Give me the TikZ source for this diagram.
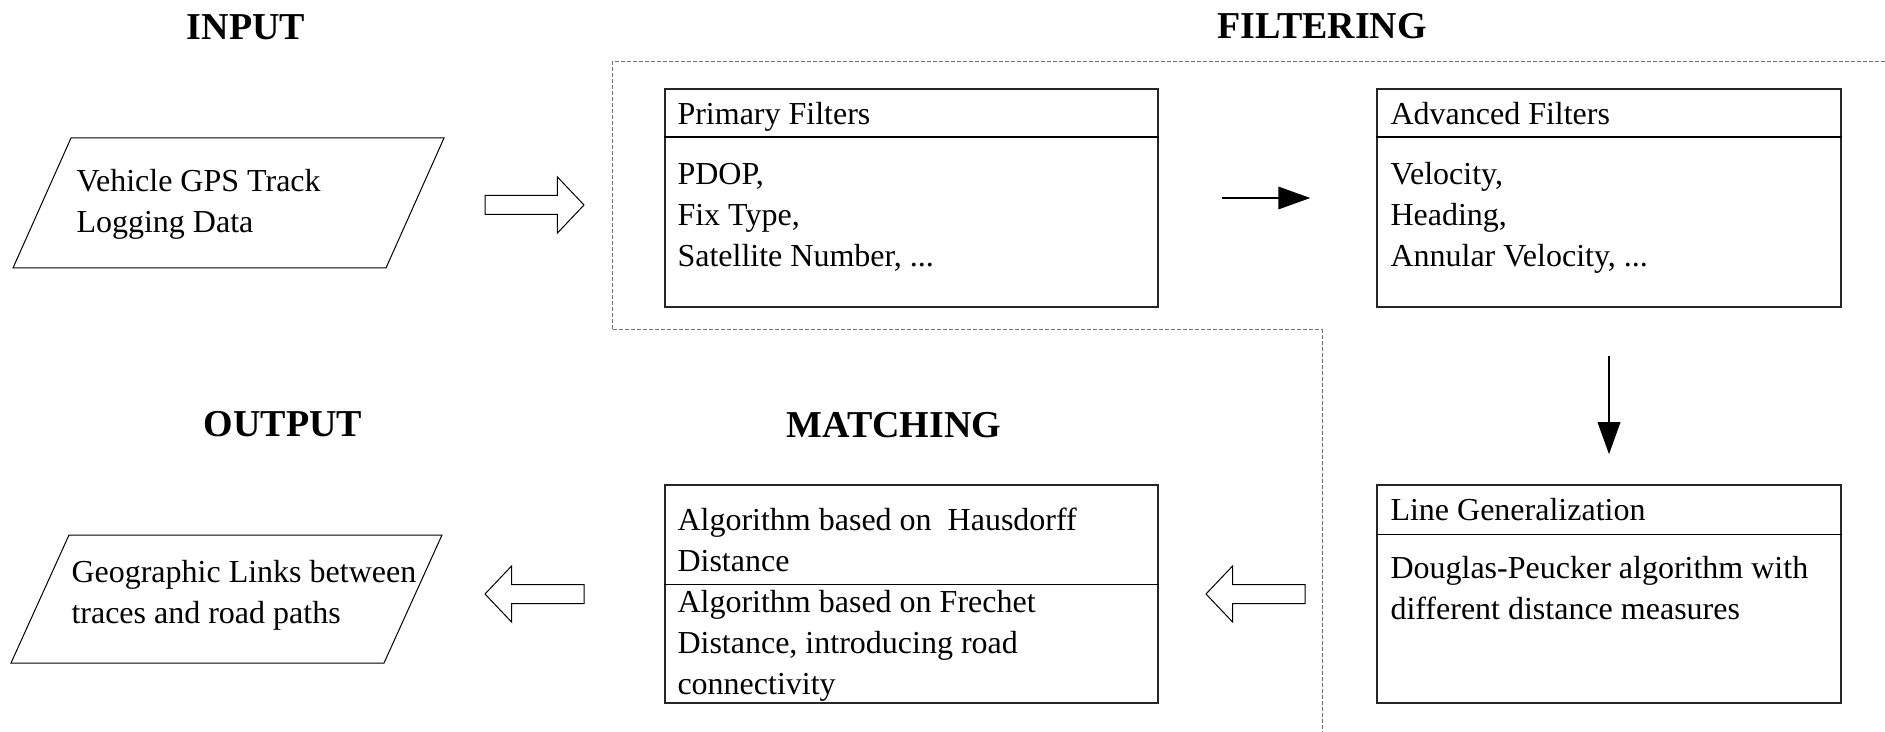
\documentclass[tikz,border=0pt]{standalone}
\usepackage{fontspec}
\setmainfont{Liberation Serif}
\usetikzlibrary{shapes.arrows,arrows.meta}

\tikzset{
  hdr/.style={font=\fontsize{15.2}{18}\selectfont\bfseries, inner sep=0pt},
  txt/.style={font=\fontsize{12.8}{16.4}\selectfont, align=left, anchor=base west, inner sep=0pt},
  box/.style={draw=black!85, line width=0.6pt, minimum width=#1, minimum height=87.2pt, inner sep=0pt},
  iobox/.style={draw, line width=0.4pt},
  hollow/.style={draw, line width=0.4pt, single arrow, single arrow head extend=7.4pt,
    single arrow tip angle=93, inner sep=3.6pt, minimum height=39.6pt},
  flow/.style={line width=0.8pt, -{Triangle[length=12.8pt, width=9pt]}},
}

\begin{document}
\begin{tikzpicture}[x=0.4pt, y=-0.4pt]
       \useasboundingbox (0,0) rectangle (1885,732);

       \node[hdr] (hin) at (246,27) {INPUT};
       \node[hdr] (hfil) at (1322,26) {FILTERING};
       \node[hdr] (hout) at (283,424) {OUTPUT};
       \node[hdr] (hmat) at (894,425) {MATCHING};

       \draw[black!55, line width=0.4pt, dash pattern=on 1.6pt off 0.8pt]
         (1885,62) -- (612,62) -- (612,330) -- (1322,330) -- (1322,732);

       \draw[iobox] (13,268) -- (71,138) -- (444,138) -- (386,268) -- cycle;
       \node[txt] (inp) at (76,233) {Vehicle GPS Track\\Logging Data};

       \node[box=197.2pt] (prim) at (911.5,198) {};
       \draw[line width=0.6pt] ([yshift=-19.6pt]prim.north west) -- ([yshift=-19.6pt]prim.north east);
       \node[txt] (primhd) at (677,125) {Primary Filters};
       \node[txt] (primtxt) at (677,267) {PDOP,\\Fix Type,\\Satellite Number, ...};

       \node[box=185.6pt] (adv) at (1609,198) {};
       \draw[line width=0.6pt] ([yshift=-19.6pt]adv.north west) -- ([yshift=-19.6pt]adv.north east);
       \node[txt] (advhd) at (1390,125) {Advanced Filters};
       \node[txt] (advtxt) at (1390,267) {Velocity,\\Heading,\\Annular Velocity, ...};

       \node[box=185.6pt] (linegen) at (1609,594) {};
       \draw[line width=0.6pt] ([yshift=-20pt]linegen.north west) -- ([yshift=-20pt]linegen.north east);
       \node[txt] (lghd) at (1390,520) {Line Generalization};
       \node[txt] (lgtxt) at (1390,619) {Douglas-Peucker algorithm with\\different distance measures};

       \node[box=197.2pt] (match) at (911.5,594) {};
       \draw[line width=0.6pt] ([yshift=-40pt]match.north west) -- ([yshift=-40pt]match.north east);
       \node[txt] (mhaus) at (677,571) {Algorithm based on\ \ Hausdorff\\Distance};
       \node[txt] (mfre) at (677,694) {Algorithm based on Frechet\\Distance, introducing road\\connectivity};

       \draw[iobox] (11,663) -- (69,535) -- (442,535) -- (384,663) -- cycle;
       \node[txt] (out) at (71,623) {Geographic Links between\\traces and road paths};

       \node[hollow] (a1) at (530,205) {};
       \node[hollow, shape border rotate=180] (a2) at (1260,594) {};
       \node[hollow, shape border rotate=180] (a3) at (539,594) {};

       \draw[flow, shorten <=25.2pt, shorten >=26.4pt] (prim) -- (adv);
       \draw[flow, shorten <=19.2pt, shorten >=12pt] (adv) -- (linegen);
\end{tikzpicture}
\end{document}
